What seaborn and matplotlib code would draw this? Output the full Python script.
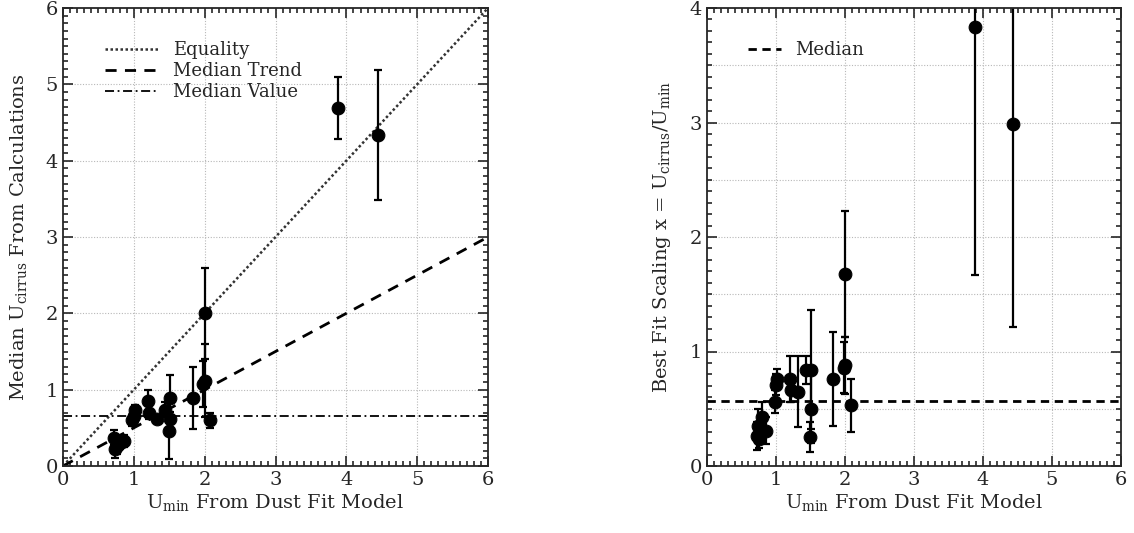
import seaborn as sns
import matplotlib.pyplot as plt
import numpy as np
import pandas as pd

# Datos
u_min = [0.72, 0.74, 0.76, 0.80, 0.86, 0.98, 1.00, 1.02, 1.20, 1.22, 1.32,
         1.44, 1.51, 1.51, 1.49, 1.83, 2.00, 2.00, 1.98, 2.08, 3.88, 4.44]

# panel izquierdo: U_cirrus mediana
u_cirrus = [0.37, 0.22, 0.26, 0.30, 0.33, 0.60, 0.66, 0.74, 0.85, 0.70, 0.61,
            0.74, 0.89, 0.61, 0.46, 0.89, 2.00, 1.12, 1.07, 0.60, 4.69, 4.34]
u_cirrus_err = [0.10, 0.12, 0.10, 0.08, 0.08, 0.07, 0.07, 0.06, 0.14, 0.08, 0.05,
                0.10, 0.30, 0.10, 0.37, 0.41, 0.60, 0.48, 0.30, 0.10, 0.40, 0.85]

# panel derecho: escala de mejor ajuste
scaling = [0.26, 0.35, 0.24, 0.43, 0.31, 0.56, 0.71, 0.76, 0.76, 0.66, 0.65,
           0.84, 0.84, 0.50, 0.25, 0.76, 1.68, 0.88, 0.86, 0.53, 3.83, 2.99]
scaling_err = [0.12, 0.15, 0.08, 0.13, 0.12, 0.10, 0.09, 0.09, 0.20, 0.10, 0.31,
               0.12, 0.52, 0.30, 0.13, 0.41, 0.55, 0.25, 0.22, 0.23, 2.16, 1.78]

trend_slope = 0.5
median_left = 0.65
median_right = 0.57

df = pd.DataFrame({'umin': u_min, 'ucirrus': u_cirrus, 'ucirrus_err': u_cirrus_err,
                   'scaling': scaling, 'scaling_err': scaling_err})

sns.set_style("ticks")
plt.rcParams['font.family'] = ['DejaVu Serif']
plt.rcParams['mathtext.default'] = 'regular'
plt.rcParams['font.size'] = 13
plt.rcParams['xtick.direction'] = 'in'
plt.rcParams['ytick.direction'] = 'in'

W, H = 1134, 533
fig = plt.figure(figsize=(W / 100, H / 100), dpi=100)
# posiciones en píxeles: izquierda 63-488, derecha 707-1121, arriba 8, abajo 466
ax1 = fig.add_axes([63 / W, 1 - 466 / H, 425 / W, 458 / H])
ax2 = fig.add_axes([707 / W, 1 - 466 / H, 414 / W, 458 / H])

grid_kw = dict(color='#b8b8b8', linestyle=(0, (1, 1.5)), linewidth=0.8)


def style_axes(ax, ylim, ymajor, ygrid):
    ax.set_xlim(0, 6)
    ax.set_ylim(*ylim)
    ax.set_xticks(range(0, 7))
    ax.set_yticks(ymajor)
    ax.set_xticks(np.arange(0, 6.01, 0.1), minor=True)
    ax.set_yticks(np.arange(0, ylim[1] + 0.001, 0.1), minor=True)
    for g in range(1, 6):
        ax.axvline(g, zorder=0, **grid_kw)
    for g in ygrid:
        ax.axhline(g, zorder=0, **grid_kw)
    ax.tick_params(which='both', top=True, right=True, width=1.2)
    ax.tick_params(which='major', length=7, labelsize=14)
    ax.tick_params(which='minor', length=3.5)
    for s in ax.spines.values():
        s.set_linewidth(1.3)


# Panel izquierdo
xs = np.array([0, 6])
ax1.plot(xs, xs, color='#333333', linestyle=(0, (1, 1)), linewidth=1.8, label='Equality')
ax1.plot(xs, trend_slope * xs, color='black', linestyle=(0, (4, 3)), linewidth=2, label='Median Trend')
ax1.axhline(median_left, color='black', linestyle=(0, (5, 2, 1, 2)), linewidth=1.3, label='Median Value')
ax1.errorbar(df['umin'], df['ucirrus'], yerr=df['ucirrus_err'], fmt='none',
             ecolor='black', elinewidth=1.6, capsize=3, capthick=1.6)
sns.scatterplot(data=df, x='umin', y='ucirrus', ax=ax1, color='black', s=85,
                edgecolor='black', zorder=5, legend=False)
style_axes(ax1, (0, 6), range(0, 7), range(1, 6))
ax1.set_xlabel('U$_{min}$ From Dust Fit Model', fontsize=14, labelpad=2)
ax1.set_ylabel('Median U$_{cirrus}$ From Calculations', fontsize=14, labelpad=12)
ax1.legend(loc='upper left', frameon=False, fontsize=13, handlelength=3,
           borderaxespad=1.2, labelspacing=0.15, bbox_to_anchor=(0.03, 0.99))

# Panel derecho
ax2.axhline(median_right, color='black', linestyle=(0, (3, 2)), linewidth=2, label='Median')
ax2.errorbar(df['umin'], df['scaling'], yerr=df['scaling_err'], fmt='none',
             ecolor='black', elinewidth=1.6, capsize=3, capthick=1.6)
sns.scatterplot(data=df, x='umin', y='scaling', ax=ax2, color='black', s=85,
                edgecolor='black', zorder=5, legend=False)
style_axes(ax2, (0, 4), range(0, 5), np.arange(0.5, 4, 0.5))
ax2.set_xlabel('U$_{min}$ From Dust Fit Model', fontsize=14, labelpad=2)
ax2.set_ylabel('Best Fit Scaling x = U$_{cirrus}$/U$_{min}$', fontsize=14, labelpad=12)
ax2.legend(loc='upper left', frameon=False, fontsize=13, handlelength=1.8,
           borderaxespad=1.2, bbox_to_anchor=(0.03, 0.99))

plt.savefig('out.png', dpi=100)
